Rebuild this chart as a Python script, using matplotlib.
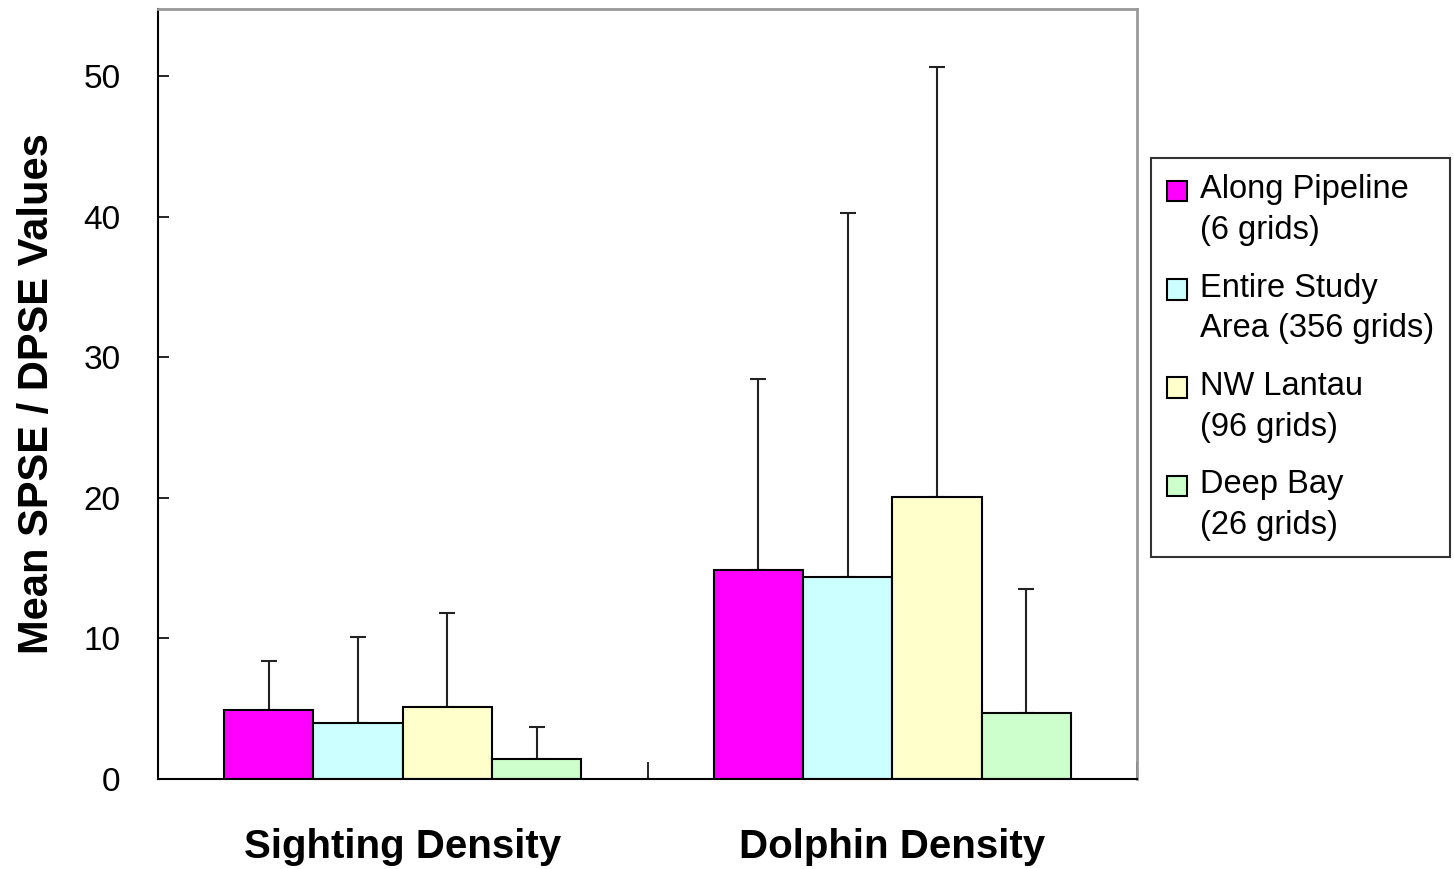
import matplotlib
matplotlib.use('Agg')
import matplotlib.pyplot as plt
from matplotlib.patches import Rectangle
from matplotlib.legend_handler import HandlerPatch
import numpy as np

plt.rcParams['font.family'] = ['Liberation Sans', 'DejaVu Sans']

# Data
categories = ['Sighting Density', 'Dolphin Density']
series = ['Along Pipeline\n(6 grids)', 'Entire Study\nArea (356 grids)',
          'NW Lantau\n(96 grids)', 'Deep Bay\n(26 grids)']
colors = ['#ff00ff', '#ccffff', '#ffffcc', '#ccffcc']
means = [
    [4.9, 14.9],   # Along Pipeline
    [4.0, 14.4],   # Entire Study Area
    [5.1, 20.1],   # NW Lantau
    [1.4, 4.7],    # Deep Bay
]
upper = [
    [8.4, 28.5],
    [10.1, 40.3],
    [11.8, 50.7],
    [3.7, 13.5],
]


class TopSquare(HandlerPatch):
    # put the legend square next to the first text line instead of the middle
    def create_artists(self, legend, orig_handle, xdescent, ydescent,
                       width, height, fontsize, trans):
        shift = 0.6 * fontsize
        p = Rectangle((-xdescent, -ydescent + shift), width, height)
        self.update_prop(p, orig_handle, legend)
        p.set_transform(trans)
        return [p]


fig = plt.figure(figsize=(14.54, 8.69), dpi=100)
ax = fig.add_axes([0.1087, 0.1036, 0.782 - 0.1087, 0.9896 - 0.1036])

x = np.arange(len(categories))
width = 0.1825
offsets = (np.arange(len(series)) - 1.5) * width

bars = []
for i in range(len(series)):
    m = np.array(means[i])
    err = np.array(upper[i]) - m
    b = ax.bar(x + offsets[i], m, width=width, color=colors[i], edgecolor='black',
               linewidth=1.5, label=series[i], zorder=2)
    bars.append(b)
    ax.errorbar(x + offsets[i], m, yerr=[np.zeros_like(err), err], fmt='none',
                ecolor='#222222', elinewidth=1.5, capsize=5.5, capthick=1.5, zorder=1)

ax.set_xlim(-0.5, 1.5)
ax.set_ylim(0, 54.8)
ax.set_yticks([0, 10, 20, 30, 40, 50])
ax.tick_params(axis='y', direction='in', length=8, width=1.2, labelsize=24, pad=27)

ax.set_xticks(x)
ax.set_xticklabels(categories, fontsize=29, fontweight='bold')
ax.tick_params(axis='x', which='major', length=0, pad=35)
ax.set_xticks([0.5, 1.5], minor=True)
ax.tick_params(axis='x', which='minor', direction='in', length=12, width=1.2)

ax.set_ylabel('Mean SPSE / DPSE Values', fontsize=30, fontweight='bold', labelpad=19)

for s in ['left', 'bottom']:
    ax.spines[s].set_color('black')
    ax.spines[s].set_linewidth(1.5)
for s in ['top', 'right']:
    ax.spines[s].set_color('#999999')
    ax.spines[s].set_linewidth(2)

leg = fig.legend(handles=[b[0] for b in bars], labels=series,
                 loc='upper left', bbox_to_anchor=(1151 / 1454, 1 - 158 / 869),
                 fontsize=23.5, frameon=True, fancybox=False, edgecolor='black',
                 handlelength=0.6, handleheight=0.6, handletextpad=0.4,
                 labelspacing=0.82, borderpad=0.5, borderaxespad=0,
                 handler_map={Rectangle: TopSquare()})
leg.get_frame().set_linewidth(1.5)
for t in leg.get_texts():
    t.set_linespacing(1.4)

plt.savefig('out.png', dpi=100)
plt.close()
